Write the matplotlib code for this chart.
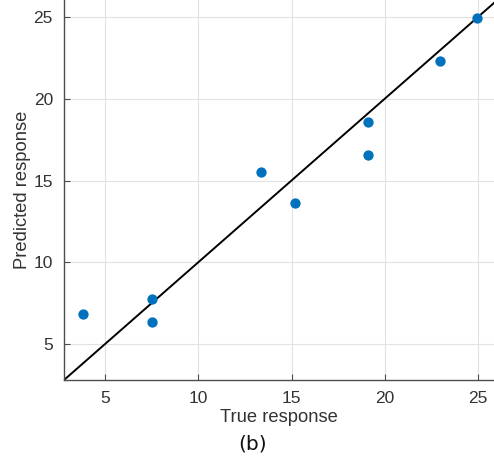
import matplotlib

matplotlib.use("Agg")
import matplotlib.pyplot as plt

true_resp = [3.8, 7.5, 7.5, 13.35, 15.2, 19.1, 19.1, 22.95, 24.97]
pred_resp = [6.85, 7.75, 6.35, 15.5, 13.65, 18.6, 16.55, 22.3, 24.92]
x_ticks = [5, 10, 15, 20, 25]
y_ticks = [5, 10, 15, 20, 25]

plt.rcParams["font.family"] = ["Liberation Sans", "DejaVu Sans"]

fig = plt.figure(figsize=(4.94, 4.57), dpi=100)
ax = fig.add_axes([0.1296, 0.1685, 0.8704, 0.8315])

lo, hi = 2.8, 26.0
ax.plot([lo, hi], [lo, hi], color="black", linewidth=1.4, zorder=2)
ax.scatter(true_resp, pred_resp, s=55, color="#0072BD", zorder=3, linewidths=0)

ax.set_xlim(2.8, 25.86)
ax.set_ylim(2.8, 26.04)
ax.set_xticks(x_ticks)
ax.set_yticks(y_ticks)
ax.grid(True, color="#e2e2e2", linewidth=0.8, zorder=0)
ax.set_axisbelow(True)
for side in ["top", "right"]:
    ax.spines[side].set_visible(False)
for side in ["left", "bottom"]:
    ax.spines[side].set_color("#4d4d4d")
    ax.spines[side].set_linewidth(1.0)
ax.tick_params(direction="in", length=4, color="#4d4d4d", labelcolor="#333333", labelsize=12.5, pad=8)

ax.set_xlabel("True response", fontsize=13.2, color="#333333", labelpad=2)
ax.set_ylabel("Predicted response", fontsize=13.2, color="#333333", labelpad=2)

fig.text(0.512, 0.028, "(b)", fontsize=14.5, family="DejaVu Sans", ha="center", va="center", color="#111111")

fig.savefig("out.png", dpi=100)
